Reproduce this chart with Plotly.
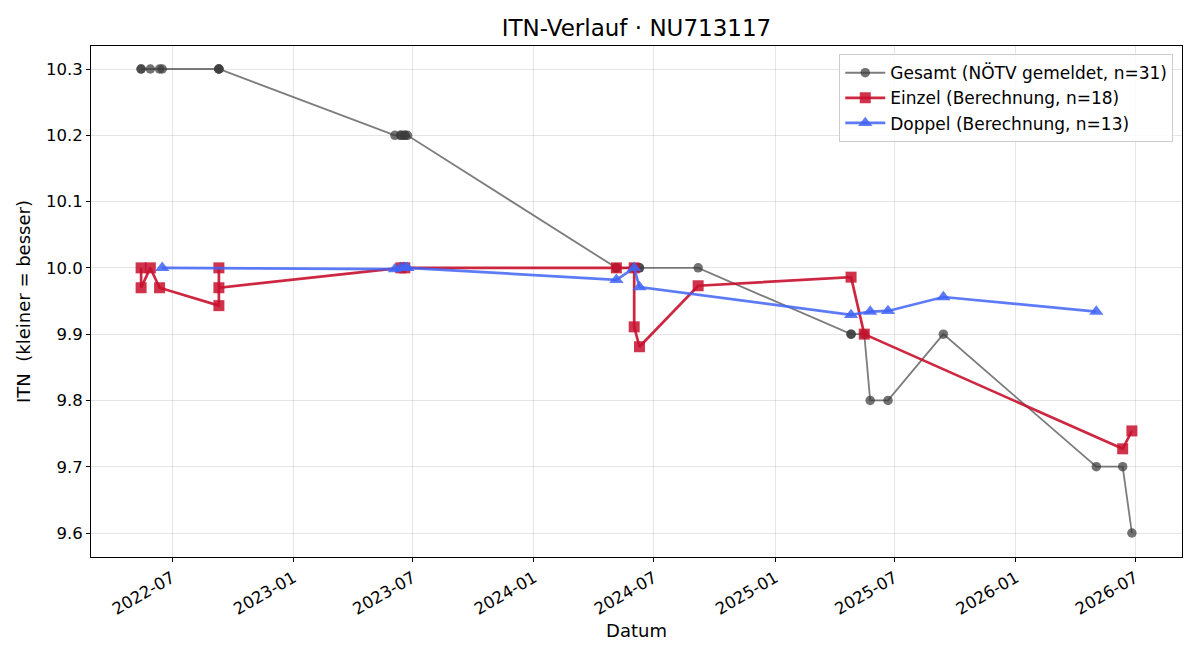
import plotly.graph_objects as go

# ---- data ----
gesamt_dates = [
    "2022-05-15", "2022-05-15", "2022-05-29", "2022-06-12", "2022-06-16",
    "2022-09-10", "2022-09-10", "2022-09-10",
    "2023-06-04", "2023-06-13", "2023-06-13", "2023-06-19", "2023-06-19", "2023-06-23",
    "2024-05-05", "2024-05-05", "2024-06-01", "2024-06-01", "2024-06-01",
    "2024-06-09", "2024-06-09", "2024-09-06",
    "2025-04-26", "2025-04-26", "2025-05-16", "2025-05-25", "2025-06-21", "2025-09-13",
    "2026-05-03", "2026-06-12", "2026-06-26",
]
gesamt_vals = [
    10.3, 10.3, 10.3, 10.3, 10.3,
    10.3, 10.3, 10.3,
    10.2, 10.2, 10.2, 10.2, 10.2, 10.2,
    10.0, 10.0, 10.0, 10.0, 10.0,
    10.0, 10.0, 10.0,
    9.9, 9.9, 9.9, 9.8, 9.8, 9.9,
    9.7, 9.7, 9.6,
]

einzel_dates = [
    "2022-05-15", "2022-05-15", "2022-05-29", "2022-06-12",
    "2022-09-10", "2022-09-10", "2022-09-10",
    "2023-06-13", "2023-06-19",
    "2024-05-05", "2024-06-01", "2024-06-01", "2024-06-09", "2024-09-06",
    "2025-04-26", "2025-05-16",
    "2026-06-12", "2026-06-26",
]
einzel_vals = [
    10.0, 9.970, 10.0, 9.970,
    9.943, 10.0, 9.970,
    10.0, 10.0,
    10.0, 10.0, 9.911, 9.881, 9.973,
    9.986, 9.900,
    9.727, 9.754,
]

doppel_dates = [
    "2022-06-16",
    "2023-06-04", "2023-06-13", "2023-06-19", "2023-06-23",
    "2024-05-05", "2024-06-01", "2024-06-09",
    "2025-04-26", "2025-05-25", "2025-06-21", "2025-09-13",
    "2026-05-03",
]
doppel_vals = [
    10.0,
    9.998, 10.0, 10.0, 10.0,
    9.982, 10.0, 9.971,
    9.929, 9.934, 9.935, 9.956,
    9.934,
]

x_tick_vals = ["2022-07-01", "2023-01-01", "2023-07-01", "2024-01-01", "2024-07-01",
               "2025-01-01", "2025-07-01", "2026-01-01", "2026-07-01"]
x_tick_text = ["2022-07", "2023-01", "2023-07", "2024-01", "2024-07",
               "2025-01", "2025-07", "2026-01", "2026-07"]
y_tick_vals = [9.6, 9.7, 9.8, 9.9, 10.0, 10.1, 10.2, 10.3]
y_tick_text = ["9.6", "9.7", "9.8", "9.9", "10.0", "10.1", "10.2", "10.3"]

FONT = "DejaVu Sans"

fig = go.Figure()
fig.add_trace(go.Scatter(
    x=gesamt_dates, y=gesamt_vals, mode="lines+markers",
    name="Gesamt (NÖTV gemeldet, n=31)",
    line=dict(color="rgba(68,68,68,0.7)", width=1.8),
    marker=dict(symbol="circle", size=9.5, color="rgba(60,60,60,0.72)",
                line=dict(width=0)),
))
fig.add_trace(go.Scatter(
    x=einzel_dates, y=einzel_vals, mode="lines+markers",
    name="Einzel (Berechnung, n=18)",
    line=dict(color="rgba(200,16,46,0.9)", width=2.7),
    marker=dict(symbol="square", size=11, color="rgba(200,16,46,0.85)",
                line=dict(width=0)),
))
fig.add_trace(go.Scatter(
    x=doppel_dates, y=doppel_vals, mode="lines+markers",
    name="Doppel (Berechnung, n=13)",
    line=dict(color="rgba(65,100,245,0.85)", width=2.7),
    marker=dict(symbol="triangle-up", size=12.5, color="rgba(65,100,245,0.85)",
                line=dict(width=0)),
))

axis_common = dict(
    showline=True, linecolor="black", linewidth=1, mirror=True,
    ticks="outside", ticklen=4, tickcolor="black", tickwidth=1,
    showgrid=True, gridcolor="rgba(0,0,0,0.1)", gridwidth=1,
    zeroline=False,
    tickfont=dict(family=FONT, size=16.5, color="black"),
)

fig.update_layout(
    width=1200, height=660,
    margin=dict(l=91, r=18, t=46, b=103),
    paper_bgcolor="white", plot_bgcolor="white",
    font=dict(family=FONT, color="black"),
    title=dict(text="ITN-Verlauf · NU713117", x=0.5, xref="paper",
               y=1 - 28 / 660, yref="container", yanchor="middle",
               font=dict(family=FONT, size=23, color="black")),
    xaxis=dict(
        **axis_common,
        type="date",
        range=["2022-02-28", "2026-09-10"],
        tickmode="array", tickvals=x_tick_vals, ticktext=x_tick_text,
        tickangle=-30,
        title=dict(text="Datum", font=dict(family=FONT, size=18, color="black"),
                   standoff=6),
    ),
    yaxis=dict(
        **axis_common,
        range=[9.5638, 10.3347],
        tickmode="array", tickvals=y_tick_vals, ticktext=y_tick_text,
        title=dict(text="ITN  (kleiner = besser)",
                   font=dict(family=FONT, size=18, color="black"),
                   standoff=10),
    ),
    legend=dict(
        x=0.992, y=0.984, xanchor="right", yanchor="top",
        bgcolor="rgba(255,255,255,0.85)", bordercolor="#cccccc", borderwidth=1,
        font=dict(family=FONT, size=17, color="black"),
        tracegroupgap=0, itemwidth=40,
    ),
    showlegend=True,
)

fig.write_html("out.html")
